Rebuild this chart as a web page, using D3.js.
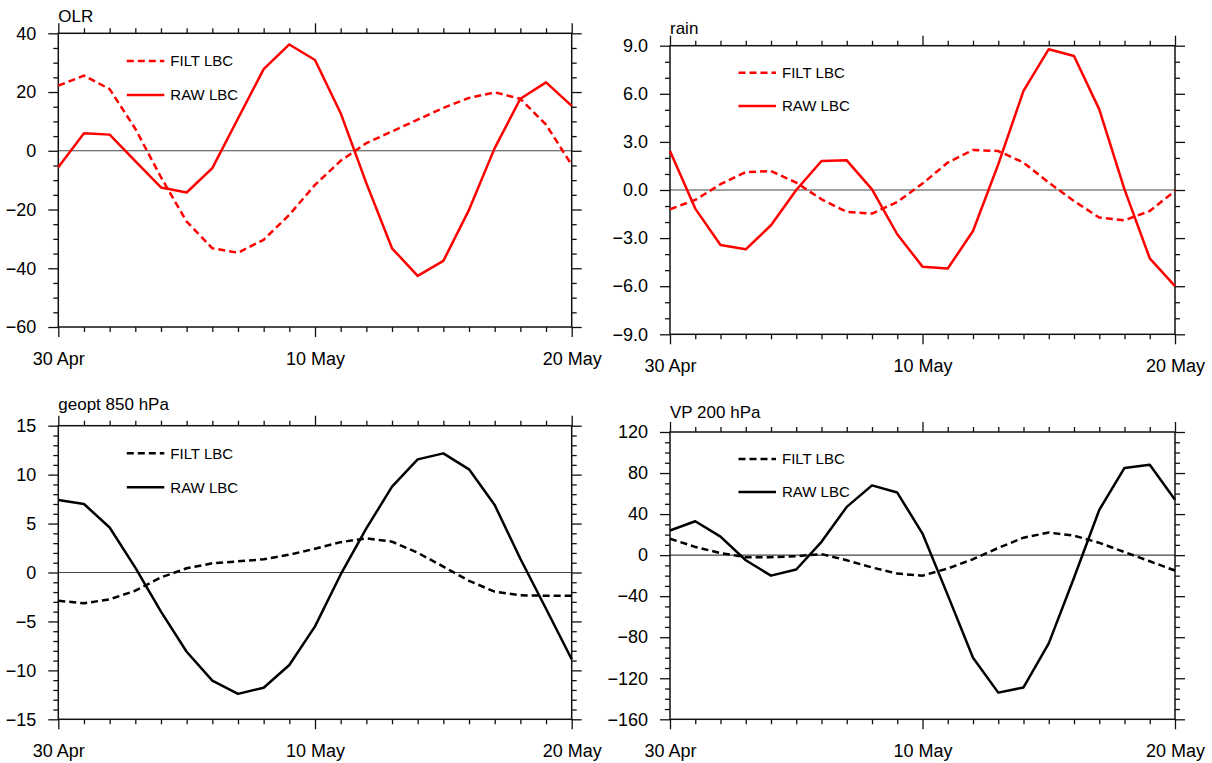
<!DOCTYPE html>
<html>
<head>
<meta charset="utf-8">
<script src="https://cdn.jsdelivr.net/npm/d3@7"></script>
<style>
  html, body { margin: 0; padding: 0; background: #fff; }
  svg { display: block; font-family: "Liberation Sans", Arial, Helvetica, sans-serif; }
</style>
</head>
<body>
<svg id="chart" width="1212" height="763"></svg>
<script>
// ---------------- DATA ----------------
const dayOffsets = [0,1,2,3,4,5,6,7,8,9,10,11,12,13,14,15,16,17,18,19,20];
const xTickDays = [0, 10, 20];
const xTickLabels = ["30 Apr", "10 May", "20 May"];
const seriesNames = ["FILT LBC", "RAW LBC"];

const olrFilt = [22.2, 25.6, 21.0, 7.5, -9.0, -24.1, -33.2, -34.7, -30.3, -21.8, -11.6, -3.4, 2.6, 6.6, 10.6, 14.6, 18.0, 19.9, 17.7, 8.9, -4.8];
const olrRaw  = [-5.6, 6.0, 5.5, -3.5, -12.5, -14.2, -5.9, 11.0, 27.8, 36.2, 30.9, 12.8, -11.0, -33.2, -42.6, -37.5, -20.1, 0.9, 17.7, 23.3, 15.3];

const rainFilt = [-1.2, -0.62, 0.36, 1.12, 1.18, 0.46, -0.58, -1.37, -1.47, -0.75, 0.4, 1.71, 2.5, 2.43, 1.71, 0.46, -0.69, -1.72, -1.89, -1.31, -0.06];
const rainRaw  = [2.43, -1.16, -3.43, -3.7, -2.2, 0.0, 1.81, 1.85, 0.04, -2.76, -4.78, -4.9, -2.56, 1.6, 6.18, 8.78, 8.36, 5.03, 0.04, -4.26, -5.99];

const geoptFilt = [-2.88, -3.15, -2.74, -1.86, -0.5, 0.43, 0.94, 1.14, 1.35, 1.82, 2.43, 3.1, 3.49, 3.15, 2.02, 0.6, -0.85, -1.96, -2.33, -2.37, -2.37];
const geoptRaw  = [7.4, 7.0, 4.6, 0.5, -4.0, -8.1, -11.05, -12.4, -11.77, -9.45, -5.5, -0.2, 4.5, 8.77, 11.56, 12.17, 10.54, 6.9, 1.4, -3.7, -8.87];

const vpFilt = [16, 8, 2, -2, -2, -1, 1, -5, -12, -18, -20, -13, -4, 7, 17, 22, 19, 12, 3, -6, -15];
const vpRaw  = [24, 33, 18, -5, -20, -14, 13, 47, 68, 61, 21, -39, -100, -134, -129, -86, -22, 44, 85, 88, 54];

const olrTicks   = [40, 20, 0, -20, -40, -60];
const rainTicks  = [9, 6, 3, 0, -3, -6, -9];
const geoptTicks = [15, 10, 5, 0, -5, -10, -15];
const vpTicks    = [120, 80, 40, 0, -40, -80, -120, -160];

const titles = ["OLR", "rain", "geopt 850 hPa", "VP 200 hPa"];

// ---------------- LAYOUT ----------------
const panels = [
  { title: titles[0], filt: olrFilt, raw: olrRaw, ticks: olrTicks, minorStep: 5, fmt: d3.format("d"), color: "#ff0000",
    x0: 58.3, x1: 571.7, y0: 33.3, y1: 327, titleY: 22, legY: [61, 95] },
  { title: titles[1], filt: rainFilt, raw: rainRaw, ticks: rainTicks, minorStep: 1, fmt: d3.format(".1f"), color: "#ff0000",
    x0: 670, x1: 1175, y0: 45.7, y1: 334.3, titleY: 34, legY: [72.7, 106] },
  { title: titles[2], filt: geoptFilt, raw: geoptRaw, ticks: geoptTicks, minorStep: 1, fmt: d3.format("d"), color: "#000000",
    x0: 58.3, x1: 571.7, y0: 425.7, y1: 719.3, titleY: 410, legY: [453.3, 487.3] },
  { title: titles[3], filt: vpFilt, raw: vpRaw, ticks: vpTicks, minorStep: 10, fmt: d3.format("d"), color: "#000000",
    x0: 670, x1: 1175, y0: 432, y1: 719.3, titleY: 418, legY: [459, 492] }
];

const svg = d3.select("#chart");
const axisColor = "#111";

panels.forEach(p => {
  const g = svg.append("g");
  const yMax = d3.max(p.ticks), yMin = d3.min(p.ticks);
  const x = d3.scaleLinear().domain([dayOffsets[0], dayOffsets[dayOffsets.length - 1]]).range([p.x0, p.x1]);
  const y = d3.scaleLinear().domain([yMin, yMax]).range([p.y1, p.y0]);

  // zero line
  g.append("line")
    .attr("x1", p.x0).attr("x2", p.x1)
    .attr("y1", y(0)).attr("y2", y(0))
    .attr("stroke", "#444").attr("stroke-width", 1.1);

  const minorY = d3.range(yMin, yMax + 1e-9, p.minorStep).map(v => +v.toFixed(6)).filter(v => !p.ticks.includes(v));
  const minorX = dayOffsets.filter(d => !xTickDays.includes(d));

  const mkAxis = (axisFn, scale, vals, size) => axisFn(scale).tickValues(vals).tickSize(size).tickFormat("");

  g.append("g").attr("transform", `translate(${p.x0},0)`)
    .call(d3.axisLeft(y).tickValues(p.ticks).tickSize(10).tickPadding(12).tickFormat(p.fmt));
  g.append("g").attr("transform", `translate(${p.x0},0)`).call(mkAxis(d3.axisLeft, y, minorY, 5));
  g.append("g").attr("transform", `translate(${p.x1},0)`).call(mkAxis(d3.axisRight, y, p.ticks, 10));
  g.append("g").attr("transform", `translate(${p.x1},0)`).call(mkAxis(d3.axisRight, y, minorY, 5));
  g.append("g").attr("transform", `translate(0,${p.y1})`)
    .call(d3.axisBottom(x).tickValues(xTickDays).tickSize(10).tickPadding(15).tickFormat((d, i) => xTickLabels[i]));
  g.append("g").attr("transform", `translate(0,${p.y1})`).call(mkAxis(d3.axisBottom, x, minorX, 5));
  g.append("g").attr("transform", `translate(0,${p.y0})`).call(mkAxis(d3.axisTop, x, xTickDays, 10));
  g.append("g").attr("transform", `translate(0,${p.y0})`).call(mkAxis(d3.axisTop, x, minorX, 5));

  g.selectAll(".domain").remove();
  g.selectAll(".tick line").attr("stroke", axisColor).attr("stroke-width", 1.3);
  g.selectAll(".tick text").attr("fill", "#000").attr("font-size", 18)
    .attr("font-family", '"Liberation Sans", Arial, Helvetica, sans-serif');

  g.append("rect")
    .attr("x", p.x0).attr("y", p.y0)
    .attr("width", p.x1 - p.x0).attr("height", p.y1 - p.y0)
    .attr("fill", "none").attr("stroke", axisColor).attr("stroke-width", 1.5);

  const line = d3.line().x((d, i) => x(dayOffsets[i])).y(d => y(d));
  g.append("path").datum(p.filt).attr("d", line)
    .attr("fill", "none").attr("stroke", p.color).attr("stroke-width", 2.5)
    .attr("stroke-dasharray", "7,4").attr("stroke-linejoin", "round");
  g.append("path").datum(p.raw).attr("d", line)
    .attr("fill", "none").attr("stroke", p.color).attr("stroke-width", 2.5)
    .attr("stroke-linejoin", "round");

  g.append("text").attr("x", p.x0).attr("y", p.titleY)
    .attr("font-size", 17).attr("fill", "#000").text(p.title);

  const lx0 = p.x0 + 68.5, lx1 = p.x0 + 106, tx = p.x0 + 112;
  seriesNames.forEach((name, i) => {
    g.append("line").attr("x1", lx0).attr("x2", lx1).attr("y1", p.legY[i]).attr("y2", p.legY[i])
      .attr("stroke", p.color).attr("stroke-width", 2.5)
      .attr("stroke-dasharray", i === 0 ? "7,4" : null);
    g.append("text").attr("x", tx).attr("y", p.legY[i]).attr("dy", "0.36em")
      .attr("font-size", 15).attr("fill", "#000").text(name);
  });
});
</script>
</body>
</html>
